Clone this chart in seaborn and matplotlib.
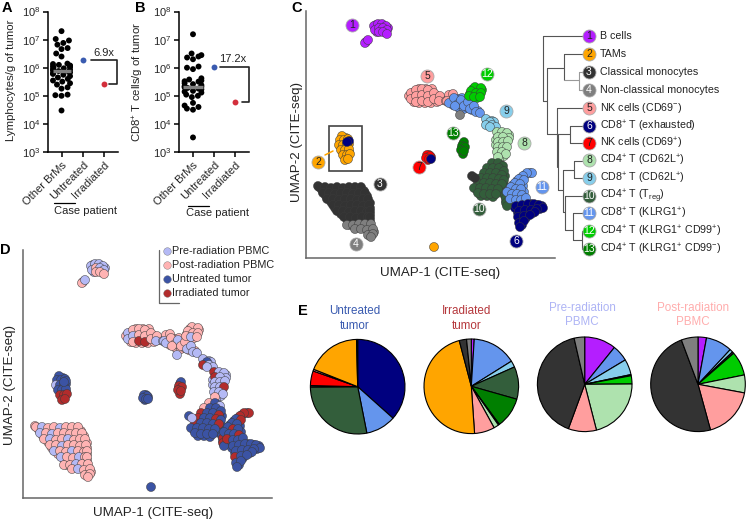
import numpy as np
import pandas as pd
import matplotlib
matplotlib.use('Agg')
import matplotlib.pyplot as plt
from matplotlib.patches import Rectangle
import seaborn as sns

W, H = 747, 521

# ---- panels A and B
groups = ['Other BrMs', 'Untreated', 'Irradiated']
group_colors = {'Other BrMs': 'black', 'Untreated': '#3A5BB0', 'Irradiated': '#D32F3C'}

lymph_other = [2.0e7, 1.05e7, 9.3e6, 7.6e6, 6.6e6, 5.0e6, 4.6e6, 3.2e6, 2.5e6, 1.4e6,
               1.35e6, 1.26e6, 1.2e6, 1.15e6, 1.12e6, 1.05e6, 1e6, 9.5e5, 8.9e5, 8.5e5,
               7.9e5, 7.6e5, 7.1e5, 6.8e5, 6.3e5, 6e5, 5.6e5, 5e5, 4.5e5, 4e5,
               3.5e5, 3.2e5, 2.8e5, 2.5e5, 2e5, 1.8e5, 1.1e5, 1.05e5, 1e5, 3e4]
lymph_case = [1.9e6, 2.7e5]
lymph_median = 7.4e5

cd8_other = [1.55e7, 3.2e6, 2.8e6, 2.5e6, 2.3e6, 2e6, 1.1e6, 1e6, 8.9e5, 4.2e5,
             3.8e5, 3.5e5, 3.3e5, 3.2e5, 2.8e5, 2.6e5, 2.4e5, 2.2e5, 2.1e5, 2e5,
             1.9e5, 1.8e5, 1.7e5, 1.5e5, 1.4e5, 1.3e5, 1.1e5, 1e5, 9e4, 5.6e4,
             4.5e4, 4e4, 3.5e4, 3.2e4, 3.3e3]
cd8_case = [1.04e6, 6e4]
cd8_median = 2e5

# ---- UMAP points by cluster, source letter L/P/U/I for panel D
b_x = [68, 72, 76, 80, 69, 73, 77, 81, 73, 77, 81, 59, 62]
b_y = [232, 234, 234, 232, 228, 230, 230, 228, 226, 226, 224, 215, 218]
b_s = "LLLLLPLLPPPPL"

tam_x = [36, 34, 38, 42, 33, 37, 41, 35, 39, 43, 37, 41, 44, 39, 42]
tam_y = [122, 118, 118, 119, 113, 113, 114, 108, 108, 109, 103, 103, 104, 98, 99]
tam_s = "UUUULUUUUUIIIII"

cm_x = [13, 19, 25, 31, 37, 43, 49, 55,
        17, 23, 29, 35, 41, 47, 53, 59,
        21, 27, 33, 39, 45, 51, 57, 62,
        27, 33, 39, 45, 51, 57, 63,
        31, 37, 43, 49, 55, 61, 64,
        38, 44, 50, 56, 62, 64]
cm_y = [71, 71, 70, 71, 70, 71, 71, 71,
        65, 65, 64, 65, 65, 64, 65, 65,
        59, 59, 58, 59, 59, 58, 59, 59,
        53, 53, 52, 53, 53, 52, 53,
        47, 47, 46, 47, 47, 46, 47,
        41, 41, 40, 41, 41, 41]
cm_s = ("PLPPLPPP" "LPLPPPPP" "PLPPLPPP" "PPLPPPP" "LPPLPPP" "LPPLPP")

ncm_x = [41, 47, 53, 59, 65, 49, 55, 61, 67, 62, 67, 65]
ncm_y = [33, 33, 34, 34, 34, 29, 29, 28, 29, 23, 24, 21]
ncm_s = "PPLPPPLPPPPP"

nk_x = [105, 105, 110, 110, 110, 116, 116, 116, 122, 122, 122, 128, 128, 134, 133, 140, 143, 147, 141]
nk_y = [165, 159, 168, 162, 156, 169, 163, 157, 168, 162, 156, 165, 159, 162, 157, 157, 163, 164, 157]
nk_s = "LLPLPPPIPPIPPPLLPPL"

klrg_up_x = [143, 148, 152, 155, 158, 162, 164, 168, 170, 174, 149]
klrg_up_y = [155, 160, 154, 158, 152, 156, 149, 152, 146, 145, 152]
klrg_up_s = "LPPLPPLLLLP"

cd99p_x = [169, 175, 165, 170, 175, 163, 168, 174]
cd99p_y = [171, 170, 167, 165, 165, 162, 161, 161]
cd99p_s = "PPPPPPLP"

cd62_8_x = [180, 184, 180, 186, 190, 184]
cd62_8_y = [139, 136, 133, 133, 131, 131]
cd62_8_s = "LUILLL"

cd62_4_x = [191, 196, 201, 203, 192, 197, 192, 197, 202, 192, 197, 201, 191, 196, 200, 192]
cd62_4_y = [126, 126, 125, 120, 121, 121, 116, 116, 117, 111, 111, 111, 106, 106, 104, 101]
cd62_4_s = "ILLLILLLLLLILLLP"

treg_x = [186, 192, 197, 181, 187, 193, 198, 178, 184, 190, 196, 175, 181, 187, 193, 198, 172,
          178, 184, 190, 196, 168, 174, 180, 186, 192, 172, 178, 184, 190, 200, 203, 200, 201]
treg_y = [95, 95, 92, 90, 90, 90, 87, 85, 85, 85, 83, 80, 80, 80, 79, 78, 75,
          75, 75, 74, 74, 70, 70, 70, 69, 69, 65, 64, 64, 64, 60, 57, 55, 52]
treg_s = ("PUL" "PUUU" "IUUI" "IUUIU" "IUUUI" "UUUUU" "UUUU" "IUIU")

klrg_lo_x = [226, 221, 217, 213, 218, 209, 214, 205, 210, 215, 201, 206, 211, 216, 204, 210, 215, 220]
klrg_lo_y = [85, 85, 82, 79, 78, 75, 74, 71, 69, 69, 66, 64, 64, 63, 59, 58, 58, 60]
klrg_lo_s = ("III" "UI" "UU" "UIU" "UUUI" "IUUU")

exh_x = [210, 216, 222, 228, 233, 237, 213, 219, 225, 231, 229, 212, 218, 224, 213, 218, 214]
exh_y = [52, 53, 54, 54, 53, 50, 47, 48, 48, 49, 46, 41, 42, 43, 35, 37, 31]
exh_s = "UUUUUUUUUUUIUUUUU"

nk69_x = [121, 124, 120, 123]
nk69_y = [103, 102, 100, 99]
nk69_s = "UUUU"

cd99n_x = [158, 156, 159, 155, 158]
cd99n_y = [116, 112, 111, 108, 107]
cd99n_s = "UIIII"

# stray points that sit away from their own cluster
stray_x = [128, 154, 166, 169, 43, 41, 125]
stray_y = [11, 143, 82, 80, 117, 116, 99]
stray_c = [2, 4, 3, 3, 6, 6, 6]
stray_s = "ULULUUU"

# cells underneath the visible ones, they close the gaps in each blob
under_b_x = [70, 74, 78, 71, 75, 79, 82, 60]
under_b_y = [233, 232, 232, 226, 228, 227, 230, 216]
under_tam_x = [36, 40, 35, 39, 37, 41, 39, 43, 41, 36, 40, 43]
under_tam_y = [118, 120, 113, 113, 108, 108, 103, 106, 100, 111, 117, 114]
under_cm_x = [16, 22, 28, 34, 40, 46, 52, 58, 20, 26, 32, 38, 44, 50, 56, 61,
              25, 31, 37, 43, 49, 55, 60, 64, 29, 35, 41, 47, 53, 59, 64,
              35, 41, 47, 53, 59, 64, 41, 47, 53, 59, 64, 12]
under_cm_y = [68, 68, 68, 68, 68, 68, 68, 67, 62, 62, 62, 62, 62, 62, 62, 62,
              56, 56, 56, 56, 56, 56, 56, 55, 50, 50, 50, 50, 50, 50, 50,
              44, 44, 44, 44, 44, 44, 39, 39, 39, 39, 38, 72]
under_ncm_x = [44, 50, 56, 62, 52, 58, 64, 64, 68, 64]
under_ncm_y = [33, 33, 33, 33, 31, 31, 31, 26, 26, 23]
under_nk_x = [103, 107, 107, 113, 113, 119, 119, 125, 125, 131, 113, 119, 125, 131, 136, 108, 113, 120, 126]
under_nk_y = [162, 165, 160, 166, 160, 166, 160, 166, 160, 162, 155, 155, 155, 156, 158, 156, 169, 169, 169]
under_klrg_up_x = [146, 150, 153, 157, 160, 164, 166, 172, 147, 153, 158, 162, 152, 156, 167]
under_klrg_up_y = [157, 156, 157, 155, 154, 153, 148, 147, 153, 150, 149, 150, 159, 160, 151]
under_cd99p_x = [172, 167, 172, 167, 176, 164, 171]
under_cd99p_y = [168, 169, 163, 164, 168, 164, 160]
under_cd62_8_x = [182, 186, 183, 188, 181, 188]
under_cd62_8_y = [137, 137, 134, 133, 136, 136]
under_cd62_4_x = [194, 199, 194, 200, 195, 200, 194, 199, 194, 198, 193, 203, 190, 190]
under_cd62_4_y = [124, 124, 119, 120, 114, 114, 109, 108, 104, 102, 99, 123, 118, 113]
under_treg_x = [189, 195, 184, 190, 196, 181, 187, 193, 199, 178, 184, 190, 196, 175, 181, 187,
                193, 199, 171, 177, 183, 189, 195, 175, 181, 187, 200, 199, 203, 202]
under_treg_y = [93, 93, 88, 88, 87, 83, 83, 83, 82, 78, 78, 77, 77, 73, 73, 72,
                72, 72, 68, 68, 67, 67, 66, 62, 62, 61, 57, 62, 60, 54]
under_klrg_lo_x = [224, 219, 215, 216, 211, 207, 212, 217, 203, 208, 213, 218, 203, 208, 213, 218, 207, 212, 218]
under_klrg_lo_y = [85, 83, 80, 76, 77, 73, 72, 72, 68, 67, 67, 66, 62, 61, 61, 60, 56, 56, 56]
under_exh_x = [213, 219, 225, 231, 236, 234, 216, 222, 228, 212, 216, 221, 227, 214, 220, 215, 216, 212, 209]
under_exh_y = [52, 53, 54, 53, 52, 49, 48, 48, 47, 45, 44, 44, 45, 39, 40, 37, 33, 50, 50]
under_cd99n_x = [157, 156, 157]
under_cd99n_y = [114, 110, 104]
under_nk69_x = [122, 123, 125, 122]
under_nk69_y = [101, 103, 101, 98]

cluster_ids = list(range(1, 14))
cluster_colors = ['#B41EFF', '#FFA500', '#333333', '#7F7F7F', '#FF9E9E', '#00007F', '#FF0000',
                  '#AEE2AE', '#87CEEB', '#335E3B', '#6495ED', '#00CC00', '#007F00']
cluster_names = ['B cells', 'TAMs', 'Classical monocytes', 'Non-classical monocytes',
                 'NK cells (CD69$^{-}$)', 'CD8$^{+}$ T (exhausted)', 'NK cells (CD69$^{+}$)',
                 'CD4$^{+}$ T (CD62L$^{+}$)', 'CD8$^{+}$ T (CD62L$^{+}$)', 'CD4$^{+}$ T (T$_{reg}$)',
                 'CD8$^{+}$ T (KLRG1$^{+}$)', 'CD4$^{+}$ T (KLRG1$^{+}$ CD99$^{+}$)',
                 'CD4$^{+}$ T (KLRG1$^{+}$ CD99$^{-}$)']
number_light = [3, 4, 6, 10, 11, 12, 13]

source_names = {'L': 'Pre-radiation PBMC', 'P': 'Post-radiation PBMC',
                'U': 'Untreated tumor', 'I': 'Irradiated tumor'}
source_colors = {'L': '#B4B9F5', 'P': '#FFB3B3', 'U': '#3B53A4', 'I': '#B22C2C'}

# ---- panel E, clockwise from the top
pie_titles = ['Untreated\ntumor', 'Irradiated\ntumor', 'Pre-radiation\nPBMC', 'Post-radiation\nPBMC']
pie_title_colors = ['#3A5BB0', '#B5383C', '#AEB4F5', '#FFADAD']
pie_clusters = [[6, 11, 10, 3, 7, 5, 2, 3],
                [1, 11, 9, 10, 13, 3, 8, 5, 2, 3, 4],
                [1, 11, 9, 3, 12, 8, 5, 3, 4],
                [1, 11, 9, 3, 12, 8, 5, 3, 4]]
pie_values = [[36.6, 10.3, 28.0, 0.5, 5.0, 0.6, 18.6, 0.4],
              [1.0, 15.1, 2.2, 11.1, 10.5, 0.4, 1.7, 6.9, 47.0, 2.5, 1.6],
              [10.8, 5.6, 5.3, 0.4, 2.8, 21.1, 9.6, 40.8, 3.6],
              [2.9, 9.0, 1.1, 0.6, 8.2, 6.1, 17.8, 48.5, 5.7]]

sns.set_theme(style='ticks')
plt.rcParams['font.family'] = ['Liberation Sans', 'DejaVu Sans']
plt.rcParams['mathtext.fontset'] = 'custom'
plt.rcParams['mathtext.rm'] = 'Liberation Sans'
plt.rcParams['mathtext.default'] = 'regular'

fig = plt.figure(figsize=(W / 100, H / 100), dpi=100)


def px_axes(left, top, right, bottom):
    return fig.add_axes([left / W, 1 - bottom / H, (right - left) / W, (bottom - top) / H])


def swarm_panel(box, other, case, median, xlim, med_span, bracket_x):
    ax = px_axes(*box)
    df = pd.DataFrame({'group': [groups[0]] * len(other) + groups[1:], 'value': other + case})
    # laid out with a small size so the swarm stays narrow, then the dots are enlarged
    sns.swarmplot(data=df, x='group', y='value', hue='group', order=groups, palette=group_colors,
                  size=2.6, log_scale=True, legend=False, ax=ax)
    for coll in ax.collections:
        coll.set_sizes([18])
    ax.set_xlim(*xlim)
    ax.set_ylim(1e3, 1e8)
    ax.set_yticks([10.0 ** k for k in range(3, 9)])
    ax.minorticks_off()
    ax.hlines(median, med_span[0], med_span[1], color='#808080', lw=2.4, zorder=10)
    ax.plot(bracket_x, [case[0], case[0], case[1], case[1]], color='#222222', lw=1.2, clip_on=False)
    ax.set_xlabel('')
    ax.set_ylabel('')
    ax.set_xticks([0, 1, 2])
    ax.set_xticklabels(groups, rotation=45, ha='right', rotation_mode='anchor')
    ax.tick_params(axis='both', labelsize=8, width=1.1, length=3.5, color='black', pad=2)
    for side in ['top', 'right']:
        ax.spines[side].set_visible(False)
    for side in ['left', 'bottom']:
        ax.spines[side].set_linewidth(1.1)
        ax.spines[side].set_color('black')
    return ax


swarm_panel((48, 11.5, 118, 152), lymph_other, lymph_case, lymph_median, (-0.634, 2.65),
            (-0.4, 0.44), [1.38, 2.6, 2.6, 2.23])
swarm_panel((179, 11.5, 249, 152), cd8_other, cd8_case, cd8_median, (-0.667, 2.67),
            (-0.48, 0.48), [1.29, 2.67, 2.67, 2.33])


# ---- UMAP table
def cluster_table(cid, xs, ys, src):
    return pd.DataFrame({'u': xs, 'v': ys, 'cluster': cid, 'source': list(src)})


def under_table(cid, xs, ys, letter):
    return pd.DataFrame({'u': xs, 'v': ys, 'cluster': cid, 'source': letter})


umap = pd.concat([
    under_table(3, under_cm_x, under_cm_y, 'P'),
    under_table(4, under_ncm_x, under_ncm_y, 'P'),
    under_table(1, under_b_x, under_b_y, 'L'),
    under_table(2, under_tam_x, under_tam_y, 'U'),
    under_table(5, under_nk_x, under_nk_y, 'P'),
    under_table(11, under_klrg_up_x, under_klrg_up_y, 'P'),
    under_table(12, under_cd99p_x, under_cd99p_y, 'P'),
    under_table(9, under_cd62_8_x, under_cd62_8_y, 'L'),
    under_table(8, under_cd62_4_x, under_cd62_4_y, 'L'),
    under_table(10, under_treg_x, under_treg_y, 'U'),
    under_table(11, under_klrg_lo_x, under_klrg_lo_y, 'U'),
    under_table(6, under_exh_x, under_exh_y, 'U'),
    under_table(13, under_cd99n_x, under_cd99n_y, 'I'),
    under_table(7, under_nk69_x, under_nk69_y, 'U'),
    cluster_table(3, cm_x, cm_y, cm_s),
    cluster_table(4, ncm_x, ncm_y, ncm_s),
    cluster_table(1, b_x, b_y, b_s),
    cluster_table(2, tam_x, tam_y, tam_s),
    cluster_table(5, nk_x, nk_y, nk_s),
    cluster_table(11, klrg_up_x, klrg_up_y, klrg_up_s),
    cluster_table(12, cd99p_x, cd99p_y, cd99p_s),
    cluster_table(9, cd62_8_x, cd62_8_y, cd62_8_s),
    cluster_table(8, cd62_4_x, cd62_4_y, cd62_4_s),
    cluster_table(10, treg_x, treg_y, treg_s),
    cluster_table(11, klrg_lo_x, klrg_lo_y, klrg_lo_s),
    cluster_table(6, exh_x, exh_y, exh_s),
    cluster_table(13, cd99n_x, cd99n_y, cd99n_s),
    cluster_table(7, nk69_x, nk69_y, nk69_s),
    pd.DataFrame({'u': stray_x, 'v': stray_y, 'cluster': stray_c, 'source': list(stray_s)}),
], ignore_index=True)


def umap_panel(box, hue, palette):
    ax = px_axes(*box)
    sns.scatterplot(data=umap, x='u', y='v', hue=hue, palette=palette, s=42,
                    edgecolor='#3a3a3a', linewidth=0.35, legend=False, ax=ax, clip_on=False)
    ax.set_xlim(0, box[2] - box[0])
    ax.set_ylim(0, box[3] - box[1])
    ax.set_xticks([])
    ax.set_yticks([])
    ax.set_xlabel('')
    ax.set_ylabel('')
    for side in ['top', 'right']:
        ax.spines[side].set_visible(False)
    for side in ['left', 'bottom']:
        ax.spines[side].set_color('#666666')
        ax.spines[side].set_linewidth(1.1)
    return ax


umap_panel((306, 11, 555, 258), 'cluster', dict(zip(cluster_ids, cluster_colors)))
umap_panel((23, 250, 272, 498), 'source', source_colors)

# ---- panel E
pie_centers = [(357.7, 386.7), (471.3, 386.3), (584.7, 384.3), (698.0, 384.3)]
pie_r = 47.3
for (cx, cy), ids, vals in zip(pie_centers, pie_clusters, pie_values):
    ax = px_axes(cx - pie_r, cy - pie_r, cx + pie_r, cy + pie_r)
    ax.pie(vals, colors=[cluster_colors[i - 1] for i in ids], startangle=90, counterclock=False,
           wedgeprops=dict(edgecolor='black', linewidth=0.8))
    ax.set_xlim(-1, 1)
    ax.set_ylim(-1, 1)
    for patch in ax.patches:
        patch.set_clip_on(False)

# ---- overlay in pixel coordinates for annotations
ov = fig.add_axes([0, 0, 1, 1], zorder=10)
ov.set_xlim(0, W)
ov.set_ylim(H, 0)
ov.axis('off')
ov.patch.set_alpha(0)

for label, x, y in [('A', 7, 8), ('B', 140, 8), ('C', 297, 8), ('D', 5, 250), ('E', 303, 311)]:
    ov.text(x, y, label, fontsize=10.5, fontweight='bold', ha='center', va='center', color='black')

ov.text(11, 80, 'Lymphocytes/g of tumor', rotation=90, fontsize=8.2, ha='center', va='center', color='#222222')
ov.text(138, 82, 'CD8$^{+}$ T cells/g of tumor', rotation=90, fontsize=8.2, ha='center', va='center', color='#222222')
ov.text(104, 53, '6.9x', fontsize=8, ha='center', va='center', color='#222222')
ov.text(233, 59, '17.2x', fontsize=8, ha='center', va='center', color='#222222')
ov.plot([54, 75], [203, 203], color='black', lw=0.9)
ov.plot([188, 209], [206, 206], color='black', lw=0.9)
ov.text(86, 211, 'Case patient', fontsize=8, ha='center', va='center', color='#222222')
ov.text(217, 213, 'Case patient', fontsize=8, ha='center', va='center', color='#222222')

ov.text(440, 273, 'UMAP-1 (CITE-seq)', fontsize=9.6, ha='center', va='center', color='#222222')
ov.text(297, 142, 'UMAP-2 (CITE-seq)', rotation=90, fontsize=9.6, ha='center', va='center', color='#222222')
ov.text(153, 513, 'UMAP-1 (CITE-seq)', fontsize=9.6, ha='center', va='center', color='#222222')
ov.text(10, 385, 'UMAP-2 (CITE-seq)', rotation=90, fontsize=9.6, ha='center', va='center', color='#222222')

# box and leader around the TAMs
ov.add_patch(Rectangle((329, 126), 33, 45, fill=False, edgecolor='#444444', lw=1.2))
ov.plot([325, 333], [155, 151], color=cluster_colors[1], lw=1.1)

# number badges on the map
badge_x = [352, 318, 380, 356, 427, 516, 419, 524, 506, 479, 542, 487, 453]
badge_y = [25, 162, 184, 244, 76, 241, 167, 143, 111, 209, 187, 74, 133]
for cid, x, y in zip(cluster_ids, badge_x, badge_y):
    tc = 'white' if cid in number_light else '#222222'
    ov.scatter([x], [y], s=88, color=cluster_colors[cid - 1], edgecolor='#aaaaaa', linewidth=0.6, zorder=5)
    ov.text(x, y, str(cid), fontsize=7.5, color=tc, ha='center', va='center', zorder=6)

# dendrogram next to the key
tree_segments = [
    (38, 48, 157, 48), (38, 48, 38, 243), (38, 243, 52, 243), (52, 143, 52, 343), (52, 143, 102, 143),
    (102, 103, 102, 181), (102, 103, 157, 103), (52, 343, 85, 343), (80, 263, 157, 263), (80, 263, 80, 440),
    (120, 343, 85, 343), (120, 317, 120, 370), (120, 317, 157, 317), (120, 370, 157, 370),
    (85, 343, 85, 510), (85, 510, 98, 510), (98, 450, 98, 575), (98, 450, 133, 450), (133, 422, 133, 475),
    (133, 422, 157, 422), (133, 475, 157, 475), (98, 575, 105, 575), (105, 527, 105, 630), (105, 527, 157, 527),
    (105, 630, 130, 630), (130, 578, 130, 660), (130, 578, 157, 578), (130, 660, 155, 660), (155, 633, 155, 686),
]
tree_grey = [(102, 181, 148, 181), (148, 157, 148, 210), (148, 157, 157, 157), (148, 210, 157, 210)]
for x0, y0, x1, y1 in tree_segments:
    ov.plot([530 + x0 / 3, 530 + x1 / 3], [20 + y0 / 3, 20 + y1 / 3], color='#555555', lw=0.8)
for x0, y0, x1, y1 in tree_grey:
    ov.plot([530 + x0 / 3, 530 + x1 / 3], [20 + y0 / 3, 20 + y1 / 3], color='#999999', lw=0.8)

key_y = [36, 54, 72, 90, 108, 126, 143, 160, 178, 196, 213, 231, 249]
for cid, name, y in zip(cluster_ids, cluster_names, key_y):
    tc = 'white' if cid in number_light else '#222222'
    ov.scatter([589], [y], s=88, color=cluster_colors[cid - 1], edgecolor='#aaaaaa', linewidth=0.6, zorder=5)
    ov.text(589, y, str(cid), fontsize=7.5, color=tc, ha='center', va='center', zorder=6)
    ov.text(600, y, name, fontsize=7.7, color='#222222', ha='left', va='center')

# legend of panel D
ov.plot([158.7, 158.7, 179.3], [250, 303.3, 303.3], color='#666666', lw=0.9)
for key, y in zip(['L', 'P', 'U', 'I'], [251, 265, 279, 293]):
    ov.scatter([167], [y], s=30, color=source_colors[key], edgecolor='#777777', linewidth=0.3, zorder=5)
    ov.text(172, y, source_names[key], fontsize=7.8, color='#222222', ha='left', va='center')

# pie titles
pie_title_pos = [(355, 318.5), (467, 318.5), (582, 315), (693, 315)]
for txt, col, (x, y) in zip(pie_titles, pie_title_colors, pie_title_pos):
    ov.text(x, y, txt, color=col, fontsize=8.4, ha='center', va='center', linespacing=1.25)

fig.savefig('out.png', dpi=100)
